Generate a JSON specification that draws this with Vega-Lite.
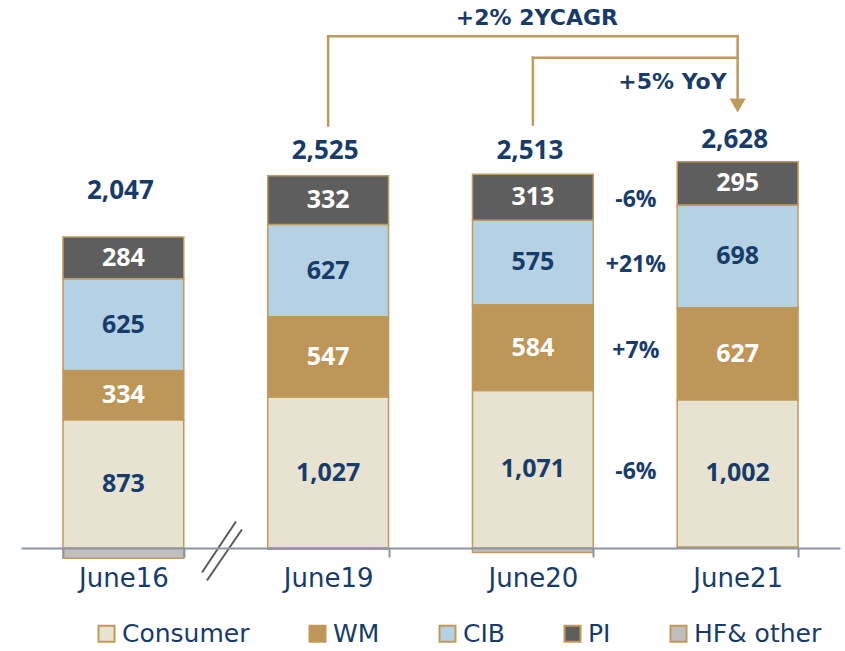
{
  "$schema": "https://vega.github.io/schema/vega-lite/v6.json",
  "width": 819,
  "height": 548,
  "autosize": "none",
  "padding": {"left": 21, "top": 0, "right": 5, "bottom": 103},
  "background": "white",
  "config": {"view": {"stroke": null}, "font": "Open Sans"},
  "datasets": {
    "segments": [
      {"period": "June16", "segment": "HF& other", "order": 0, "value": -69},
      {"period": "June16", "segment": "Consumer", "order": 1, "value": 873},
      {"period": "June16", "segment": "WM", "order": 2, "value": 334},
      {"period": "June16", "segment": "CIB", "order": 3, "value": 625},
      {"period": "June16", "segment": "PI", "order": 4, "value": 284},
      {"period": "June19", "segment": "HF& other", "order": 0, "value": -8},
      {"period": "June19", "segment": "Consumer", "order": 1, "value": 1027},
      {"period": "June19", "segment": "WM", "order": 2, "value": 547},
      {"period": "June19", "segment": "CIB", "order": 3, "value": 627},
      {"period": "June19", "segment": "PI", "order": 4, "value": 332},
      {"period": "June20", "segment": "HF& other", "order": 0, "value": -30},
      {"period": "June20", "segment": "Consumer", "order": 1, "value": 1071, "growth": "-6%"},
      {"period": "June20", "segment": "WM", "order": 2, "value": 584, "growth": "+7%"},
      {"period": "June20", "segment": "CIB", "order": 3, "value": 575, "growth": "+21%"},
      {"period": "June20", "segment": "PI", "order": 4, "value": 313, "growth": "-6%"},
      {"period": "June21", "segment": "HF& other", "order": 0, "value": 6},
      {"period": "June21", "segment": "Consumer", "order": 1, "value": 1002},
      {"period": "June21", "segment": "WM", "order": 2, "value": 627},
      {"period": "June21", "segment": "CIB", "order": 3, "value": 698},
      {"period": "June21", "segment": "PI", "order": 4, "value": 295}
    ],
    "totals": [
      {"period": "June16", "total": "2,047", "labelY": 2427},
      {"period": "June19", "total": "2,525", "labelY": 2699},
      {"period": "June20", "total": "2,513", "labelY": 2699},
      {"period": "June21", "total": "2,628", "labelY": 2776}
    ],
    "brackets": [
      {"x": 1.5, "x2": 1.5, "y": 2874, "y2": 3482},
      {"x": 1.5, "x2": 3.5, "y": 3482, "y2": 3482},
      {"x": 3.5, "x2": 3.5, "y": 3482, "y2": 3045},
      {"x": 2.5, "x2": 2.5, "y": 2881, "y2": 3335},
      {"x": 2.5, "x2": 3.5, "y": 3335, "y2": 3335}
    ],
    "arrow": [{"x": 3.5, "y": 3010}],
    "breakmark": [
      {"x": 0.884, "x2": 1.05, "y": -167, "y2": 180},
      {"x": 0.908, "x2": 1.079, "y": -221, "y2": 126}
    ]
  },
  "resolve": {"scale": {"x": "independent"}},
  "layer": [
    {
      "layer": [
        {
          "data": {"name": "segments"},
          "transform": [
            {"stack": "value", "groupby": ["period"], "sort": [{"field": "order", "order": "ascending"}], "as": ["y0", "y1"]}
          ],
          "mark": {"type": "bar", "stroke": "#C09A5B", "strokeWidth": 1.5},
          "encoding": {
            "x": {
              "field": "period", "type": "nominal",
              "scale": {"type": "band", "domain": ["June16", "June19", "June20", "June21"], "paddingInner": 0.41, "paddingOuter": 0.205},
              "axis": {
                "title": null, "labelAngle": 0, "domainColor": "#8C95A8", "domainWidth": 2,
                "tickColor": "#8C95A8", "tickWidth": 2, "tickSize": 9, "tickBand": "extent",
                "labelFont": "DejaVu Sans", "labelFontSize": 26, "labelColor": "#173C6B",
                "labelPadding": 8, "zindex": 1
              }
            },
            "y": {"field": "y1", "type": "quantitative", "scale": {"domain": [0, 3728], "nice": false, "zero": false}, "axis": null},
            "y2": {"field": "y0"},
            "color": {
              "field": "segment", "type": "nominal",
              "scale": {"domain": ["Consumer", "WM", "CIB", "PI", "HF& other"], "range": ["#E8E3D1", "#BE9657", "#B4D2E3", "#5E5E5E", "#BFBFBF"]},
              "legend": {
                "orient": "none", "legendX": 73, "legendY": 621, "direction": "horizontal", "title": null,
                "symbolType": "square", "symbolSize": 256, "symbolStrokeColor": "#C09A5B", "symbolStrokeWidth": 2,
                "labelFont": "DejaVu Sans", "labelFontSize": 25, "labelColor": "#173C6B",
                "columnPadding": 55, "labelOffset": 3, "padding": 0, "labelLimit": 300
              }
            }
          }
        },
        {
          "data": {"name": "segments"},
          "transform": [
            {"stack": "value", "groupby": ["period"], "sort": [{"field": "order", "order": "ascending"}], "as": ["y0", "y1"]},
            {"filter": "datum.segment !== 'HF& other'"},
            {"calculate": "(datum.y0 + datum.y1) / 2", "as": "mid"}
          ],
          "mark": {"type": "text", "font": "Open Sans", "fontWeight": "bold", "fontSize": 25, "baseline": "middle", "align": "center"},
          "encoding": {
            "x": {"field": "period", "type": "nominal"},
            "y": {"field": "mid", "type": "quantitative", "scale": {"domain": [0, 3728], "nice": false, "zero": false}},
            "text": {"field": "value", "type": "quantitative", "format": ",d"},
            "color": {"condition": {"test": "datum.segment === 'WM' || datum.segment === 'PI'", "value": "#FFFFFF"}, "value": "#173C6B"}
          }
        },
        {
          "data": {"name": "segments"},
          "transform": [
            {"stack": "value", "groupby": ["period"], "sort": [{"field": "order", "order": "ascending"}], "as": ["y0", "y1"]},
            {"filter": "isValid(datum.growth)"},
            {"calculate": "(datum.y0 + datum.y1) / 2", "as": "mid"}
          ],
          "mark": {"type": "text", "font": "Open Sans", "fontWeight": "bold", "fontSize": 23, "baseline": "middle", "align": "center", "dx": 103, "dy": 3, "color": "#173C6B"},
          "encoding": {
            "x": {"field": "period", "type": "nominal"},
            "y": {"field": "mid", "type": "quantitative", "scale": {"domain": [0, 3728], "nice": false, "zero": false}},
            "text": {"field": "growth"}
          }
        },
        {
          "data": {"name": "totals"},
          "mark": {"type": "text", "font": "Open Sans", "fontWeight": "bold", "fontSize": 26, "baseline": "middle", "align": "center", "dx": -3, "color": "#173C6B"},
          "encoding": {
            "x": {"field": "period", "type": "nominal"},
            "y": {"field": "labelY", "type": "quantitative", "scale": {"domain": [0, 3728], "nice": false, "zero": false}},
            "text": {"field": "total"}
          }
        },
        {
          "data": {"values": [{"period": "June20", "note": "+2% 2YCAGR", "at": 3607}]},
          "mark": {"type": "text", "font": "DejaVu Sans", "fontWeight": "bold", "fontSize": 22, "baseline": "middle", "align": "center", "dx": 4, "color": "#173C6B"},
          "encoding": {
            "x": {"field": "period", "type": "nominal"},
            "y": {"field": "at", "type": "quantitative", "scale": {"domain": [0, 3728], "nice": false, "zero": false}},
            "text": {"field": "note"}
          }
        },
        {
          "data": {"values": [{"period": "June21", "note": "+5% YoY", "at": 3172}]},
          "mark": {"type": "text", "font": "DejaVu Sans", "fontWeight": "bold", "fontSize": 22, "baseline": "middle", "align": "right", "dx": -11, "color": "#173C6B"},
          "encoding": {
            "x": {"field": "period", "type": "nominal"},
            "y": {"field": "at", "type": "quantitative", "scale": {"domain": [0, 3728], "nice": false, "zero": false}},
            "text": {"field": "note"}
          }
        }
      ]
    },
    {
      "layer": [
        {
          "data": {"name": "brackets"},
          "mark": {"type": "rule", "color": "#C09A5B", "strokeWidth": 2.5, "strokeCap": "square"},
          "encoding": {
            "x": {"field": "x", "type": "quantitative", "scale": {"domain": [0, 4], "nice": false, "zero": false}, "axis": null},
            "x2": {"field": "x2"},
            "y": {"field": "y", "type": "quantitative", "scale": {"domain": [0, 3728], "nice": false, "zero": false}},
            "y2": {"field": "y2"}
          }
        },
        {
          "data": {"name": "arrow"},
          "mark": {"type": "point", "shape": "triangle-down", "filled": true, "color": "#C09A5B", "size": 260, "opacity": 1},
          "encoding": {
            "x": {"field": "x", "type": "quantitative", "scale": {"domain": [0, 4], "nice": false, "zero": false}, "axis": null},
            "y": {"field": "y", "type": "quantitative", "scale": {"domain": [0, 3728], "nice": false, "zero": false}}
          }
        },
        {
          "data": {"name": "breakmark"},
          "mark": {"type": "rule", "color": "#595959", "strokeWidth": 2},
          "encoding": {
            "x": {"field": "x", "type": "quantitative", "scale": {"domain": [0, 4], "nice": false, "zero": false}, "axis": null},
            "x2": {"field": "x2"},
            "y": {"field": "y", "type": "quantitative", "scale": {"domain": [0, 3728], "nice": false, "zero": false}},
            "y2": {"field": "y2"}
          }
        }
      ]
    }
  ]
}
